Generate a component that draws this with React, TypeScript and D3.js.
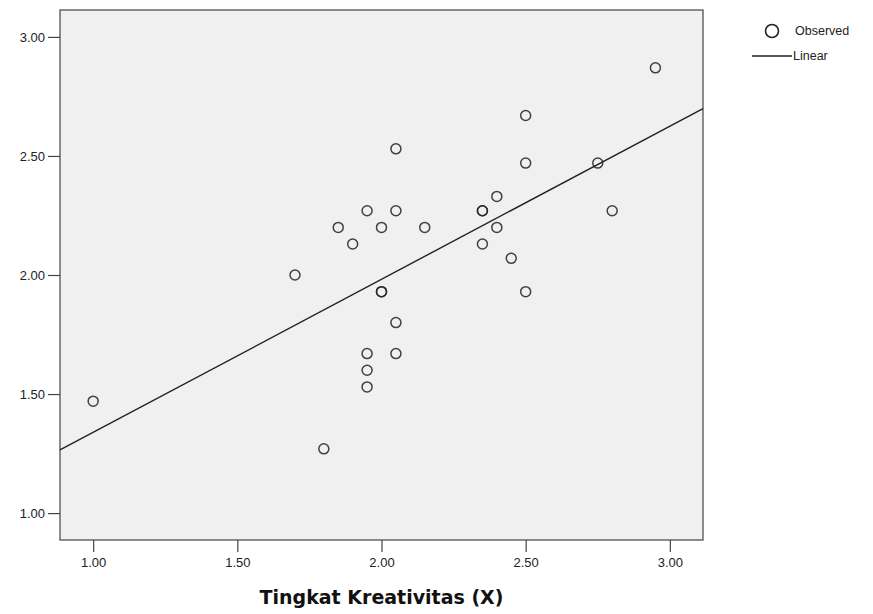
import React, { useEffect, useRef } from "react";
import * as d3 from "d3";

// Observed points (X = Tingkat Kreativitas)
const xValues = [
  1.0, 1.7, 1.8, 1.85, 1.9, 1.95, 2.0, 2.0, 2.0, 1.95, 1.95, 1.95, 2.05, 2.05,
  2.05, 2.05, 2.15, 2.35, 2.35, 2.35, 2.4, 2.4, 2.45, 2.5, 2.5, 2.5, 2.75, 2.8,
  2.95,
];
const yValues = [
  1.47, 2.0, 1.27, 2.2, 2.13, 2.27, 2.2, 1.93, 1.93, 1.67, 1.6, 1.53, 2.53, 2.27,
  1.8, 1.67, 2.2, 2.27, 2.27, 2.13, 2.33, 2.2, 2.07, 2.67, 2.47, 1.93, 2.47, 2.27,
  2.87,
];

const tickValues = [1.0, 1.5, 2.0, 2.5, 3.0];
const xDomain = [0.885, 3.115];
const yDomain = [0.887, 3.113];

// linear fit shown on the chart
const intercept = 0.696;
const slope = 0.643;

const legendLabels = ["Observed", "Linear"];
const xTitle = "Tingkat Kreativitas (X)";

export default function App() {
  const ref = useRef<SVGSVGElement>(null);

  useEffect(() => {
    const svg = d3.select(ref.current);
    svg.selectAll("*").remove();

    const left = 60,
      right = 703,
      top = 10,
      bottom = 540;
    const font = "'Liberation Sans', Arial, sans-serif";

    const x = d3.scaleLinear().domain(xDomain).range([left, right]);
    const y = d3.scaleLinear().domain(yDomain).range([bottom, top]);

    svg
      .append("rect")
      .attr("x", left)
      .attr("y", top)
      .attr("width", right - left)
      .attr("height", bottom - top)
      .attr("fill", "#f0f0f0")
      .attr("stroke", "#444")
      .attr("stroke-width", 1.2);

    const xAxis = svg
      .append("g")
      .attr("transform", `translate(0,${bottom})`)
      .call(
        d3
          .axisBottom(x)
          .tickValues(tickValues)
          .tickFormat(d3.format(".2f"))
          .tickSize(12)
          .tickPadding(6)
      );
    const yAxis = svg
      .append("g")
      .attr("transform", `translate(${left},0)`)
      .call(
        d3
          .axisLeft(y)
          .tickValues(tickValues)
          .tickFormat(d3.format(".2f"))
          .tickSize(12)
          .tickPadding(3)
      );

    [xAxis, yAxis].forEach((g) => {
      g.select(".domain").remove();
      g.selectAll(".tick line").attr("stroke", "#444").attr("stroke-width", 1.2);
      g.selectAll(".tick text")
        .attr("fill", "#222")
        .style("font-family", font)
        .style("font-size", "13px");
    });

    // regression line
    const fit = xDomain.map((v) => ({ x: v, y: intercept + slope * v }));
    svg
      .append("path")
      .datum(fit)
      .attr("fill", "none")
      .attr("stroke", "#222")
      .attr("stroke-width", 1.4)
      .attr(
        "d",
        d3
          .line<{ x: number; y: number }>()
          .x((d) => x(d.x))
          .y((d) => y(d.y))
      );

    svg
      .append("g")
      .selectAll("circle")
      .data(xValues.map((v, i) => ({ x: v, y: yValues[i] })))
      .join("circle")
      .attr("cx", (d) => x(d.x))
      .attr("cy", (d) => y(d.y))
      .attr("r", 5)
      .attr("fill", "none")
      .attr("stroke", "#222")
      .attr("stroke-width", 1.5)
      .attr("stroke-opacity", 0.85);

    svg
      .append("text")
      .attr("x", (left + right) / 2)
      .attr("y", 604)
      .attr("text-anchor", "middle")
      .style("font-family", "'DejaVu Sans', Verdana, sans-serif")
      .style("font-size", "19px")
      .style("font-weight", "bold")
      .attr("fill", "#111")
      .text(xTitle);

    // legend
    const lg = svg.append("g").style("font-family", font).style("font-size", "12.5px");
    lg.append("circle")
      .attr("cx", 772)
      .attr("cy", 31)
      .attr("r", 6.5)
      .attr("fill", "none")
      .attr("stroke", "#222")
      .attr("stroke-width", 1.6);
    lg.append("text").attr("x", 795).attr("y", 35).attr("fill", "#222").text(legendLabels[0]);
    lg.append("line")
      .attr("x1", 752)
      .attr("x2", 792)
      .attr("y1", 56)
      .attr("y2", 56)
      .attr("stroke", "#222")
      .attr("stroke-width", 1.4);
    lg.append("text").attr("x", 793).attr("y", 60).attr("fill", "#222").text(legendLabels[1]);
  }, []);

  return (
    <svg
      ref={ref}
      width={873}
      height={614}
      style={{ position: "absolute", left: 0, top: 0, background: "#fff" }}
    />
  );
}
